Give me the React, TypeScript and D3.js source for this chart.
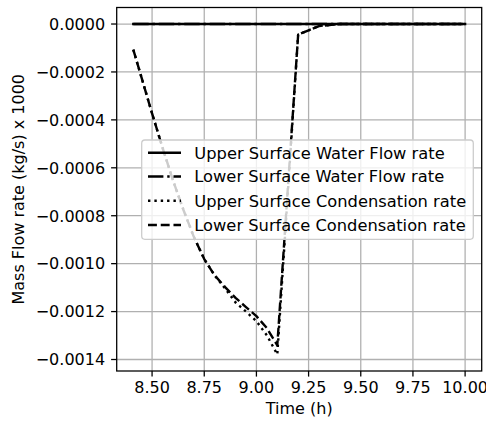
import React from "react";
import * as d3 from "d3";

const time = [8.41, 8.45, 8.5, 8.55, 8.6, 8.65, 8.7, 8.75, 8.8, 8.85, 8.9, 8.95, 9.0, 9.05, 9.1, 9.2, 9.3, 9.4, 9.5, 9.6, 9.7, 9.8, 9.9, 10.0];
const upperWaterFlow = [0, 0, 0, 0, 0, 0, 0, 0, 0, 0, 0, 0, 0, 0, 0, 0, 0, 0, 0, 0, 0, 0, 0, 0];
const lowerWaterFlow = [0, 0, 0, 0, 0, 0, 0, 0, 0, 0, 0, 0, 0, 0, 0, 0, 0, 0, 0, 0, 0, 0, 0, 0];
const upperCondensation = [-0.000107, -0.000225, -0.000373, -0.000516, -0.000652, -0.000775, -0.000888, -0.000981, -0.001049, -0.001104, -0.001162, -0.0012, -0.00124, -0.001299, -0.001379, -0.000044, -0.0000084, 0, 0, 0, 0, 0, 0, 0];
const lowerCondensation = [-0.000107, -0.000225, -0.000373, -0.000516, -0.000652, -0.000775, -0.000888, -0.000981, -0.001049, -0.001098, -0.001143, -0.001181, -0.001219, -0.001269, -0.001341, -0.000044, -0.0000084, 0, 0, 0, 0, 0, 0, 0];

const xTicks = [8.5, 8.75, 9.0, 9.25, 9.5, 9.75, 10.0];
const yTicks = [0, -0.0002, -0.0004, -0.0006, -0.0008, -0.001, -0.0012, -0.0014];

const seriesNames = [
  "Upper Surface Water Flow rate",
  "Lower Surface Water Flow rate",
  "Upper Surface Condensation rate",
  "Lower Surface Condensation rate",
];
const seriesValues = [upperWaterFlow, lowerWaterFlow, upperCondensation, lowerCondensation];
const dashes = ["none", "15.4,3.84,2.4,3.84", "2.4,3.96", "8.9,3.84"];

const FONT = "'DejaVu Sans', sans-serif";
const FS = 16;
const LFS = 16.3;

export default function App() {
  const left = 116.7, right = 481.7, top = 7.5, bottom = 371;
  const xmin = d3.min(time)!, xmax = d3.max(time)!;
  const xpad = (xmax - xmin) * 0.05;
  const allY = seriesValues.flat();
  const ymin = d3.min(allY)!, ymax = d3.max(allY)!;
  const ypad = (ymax - ymin) * 0.05;
  const x = d3.scaleLinear().domain([xmin - xpad, xmax + xpad]).range([left, right]);
  const y = d3.scaleLinear().domain([ymin - ypad, ymax + ypad]).range([bottom, top]);

  const fmtY = (v: number) => {
    const s = Math.abs(v).toFixed(4);
    return (v < -1e-12 ? "\u2212" : "") + s;
  };
  const fmtX = (v: number) => v.toFixed(2);

  const line = d3.line<number>().x((_, i) => x(time[i])).y((d) => y(d));

  const lx = 141.7, ly = 140, lw = 331.6, lh = 99.3;
  const rowY = [152.7, 176.5, 200.7, 225];

  return (
    <svg width={486} height={421} style={{ position: "absolute", left: 0, top: 0, background: "#fff" }} fontFamily={FONT}>
      <rect x={0} y={0} width={486} height={421} fill="#fff" />
      <defs>
        <clipPath id="plotclip">
          <rect x={left} y={top} width={right - left} height={bottom - top} />
        </clipPath>
      </defs>
      {xTicks.map((t) => (
        <line key={"gx" + t} x1={x(t)} x2={x(t)} y1={top} y2={bottom} stroke="#b0b0b0" strokeWidth={1.28} />
      ))}
      {yTicks.map((t) => (
        <line key={"gy" + t} x1={left} x2={right} y1={y(t)} y2={y(t)} stroke="#b0b0b0" strokeWidth={1.28} />
      ))}
      <g clipPath="url(#plotclip)">
        {seriesValues.map((vals, i) => (
          <path
            key={"s" + i}
            d={line(vals) || ""}
            fill="none"
            stroke="#000"
            strokeWidth={2.4}
            strokeDasharray={dashes[i]}
            strokeLinejoin="round"
            strokeLinecap={i === 0 ? "square" : "butt"}
          />
        ))}
      </g>
      <rect x={left} y={top} width={right - left} height={bottom - top} fill="none" stroke="#000" strokeWidth={1.28} />
      {xTicks.map((t) => (
        <g key={"xt" + t}>
          <line x1={x(t)} x2={x(t)} y1={bottom} y2={bottom + 5.6} stroke="#000" strokeWidth={1.28} />
          <text x={x(t)} y={bottom + 22} textAnchor="middle" fontSize={FS} fill="#000">
            {fmtX(t)}
          </text>
        </g>
      ))}
      {yTicks.map((t) => (
        <g key={"yt" + t}>
          <line x1={left - 5.6} x2={left} y1={y(t)} y2={y(t)} stroke="#000" strokeWidth={1.28} />
          <text x={left - 11.6} y={y(t) + 5.8} textAnchor="end" fontSize={FS} fill="#000">
            {fmtY(t)}
          </text>
        </g>
      ))}
      <text x={(left + right) / 2} y={414} textAnchor="middle" fontSize={FS} fill="#000">
        Time (h)
      </text>
      <text transform={`translate(24.3, ${(top + bottom) / 2}) rotate(-90)`} textAnchor="middle" fontSize={FS} fill="#000">
        Mass Flow rate (kg/s) x 1000
      </text>
      <rect x={lx} y={ly} width={lw} height={lh} rx={3.2} ry={3.2} fill="#fff" fillOpacity={0.8} stroke="#cccccc" strokeWidth={1.28} />
      {seriesNames.map((name, i) => (
        <g key={"lg" + i}>
          <line x1={148} x2={181} y1={rowY[i]} y2={rowY[i]} stroke="#000" strokeWidth={2.4} strokeDasharray={dashes[i]} />
          <text x={194.3} y={rowY[i] + 5.9} fontSize={LFS} fill="#000">
            {name}
          </text>
        </g>
      ))}
    </svg>
  );
}
